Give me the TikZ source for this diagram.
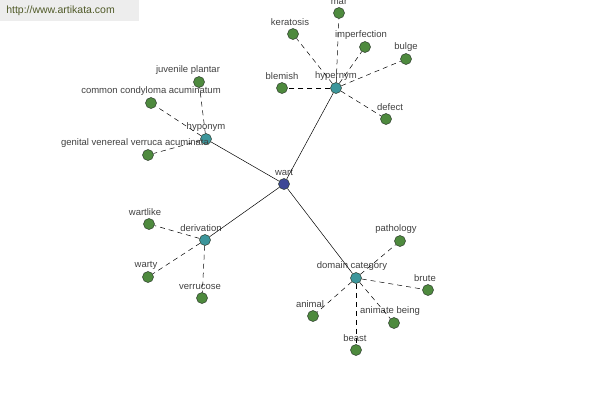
\documentclass[tikz,border=0pt]{standalone}
\usepackage{fontspec}
\setmainfont{Liberation Sans}
\usepackage{xcolor}
\usepackage{tikz}
\usetikzlibrary{shapes.geometric}

\definecolor{folhaverde}{RGB}{78,138,62}
\definecolor{centroazul}{RGB}{60,150,155}
\definecolor{raizazul}{RGB}{62,72,150}
\definecolor{borda}{RGB}{45,60,45}
\definecolor{texto}{RGB}{65,65,65}
\definecolor{faixa}{RGB}{237,237,237}
\definecolor{site}{RGB}{80,90,40}

\begin{document}
\begin{tikzpicture}[x=1pt, y=-1pt,
		    every node/.style={circle, draw=borda, line width=0.5pt, minimum size=11pt, inner sep=0pt},
		    every label/.style={draw=none, rectangle, inner sep=0.3pt, text=texto, font=\fontsize{9.5}{11}\selectfont},
		    label distance=0pt
		]
		\tikzset{
		    verde/.style={fill=folhaverde},
		    azulclaro/.style={fill=centroazul},
		    azul/.style={fill=raizazul},
		    ramo/.style={draw=black, line width=0.5pt},
		    tracejado/.style={draw=black, line width=0.5pt, dash pattern=on 5pt off 4pt}
		}
		\useasboundingbox (0,0) rectangle (600,400);
		% faixa do site
		\fill[faixa] (0,0) rectangle (139,21);
		\node[draw=none, rectangle, anchor=west, text=site, font=\fontsize{10.5}{12}\selectfont] (site) at (6,11) {http://www.artikata.com};

		% raiz e centros
		\node[azul, label=above:wart] (wart) at (284,184) {};
		\node[azulclaro, label=above:hypernym] (hypernym) at (336,88) {};
		\node[azulclaro, label=above:hyponym] (hyponym) at (206,139) {};
		\node[azulclaro, label={[xshift=-4pt]above:derivation}] (derivation) at (205,240) {};
		\node[azulclaro, label={[xshift=-4pt]above:domain category}] (domain) at (356,278) {};

		% hypernym
		\node[verde, label=above:mar] (mar) at (339,13) {};
		\node[verde, label={[xshift=-3pt]above:keratosis}] (keratosis) at (293,34) {};
		\node[verde, label={[xshift=-4pt]above:imperfection}] (imperfection) at (365,47) {};
		\node[verde, label=above:bulge] (bulge) at (406,59) {};
		\node[verde, label=above:blemish] (blemish) at (282,88) {};
		\node[verde, label={[xshift=4pt]above:defect}] (defect) at (386,119) {};

		% hyponym
		\node[verde, label={[xshift=-11pt]above:juvenile plantar}] (juvenile) at (199,82) {};
		\node[verde, label=above:common condyloma acuminatum] (common) at (151,103) {};
		\node[verde, label={[xshift=-13pt]above:genital venereal verruca acuminata}] (genital) at (148,155) {};

		% derivation
		\node[verde, label={[xshift=-4pt]above:wartlike}] (wartlike) at (149,224) {};
		\node[verde, label={[xshift=-2pt]above:warty}] (warty) at (148,277) {};
		\node[verde, label={[xshift=-2pt]above:verrucose}] (verrucose) at (202,298) {};

		% domain category
		\node[verde, label={[xshift=-4pt]above:pathology}] (pathology) at (400,241) {};
		\node[verde, label={[xshift=-3pt]above:brute}] (brute) at (428,290) {};
		\node[verde, label={[xshift=-3pt]above:animal}] (animal) at (313,316) {};
		\node[verde, label={[xshift=-4pt]above:animate being}] (animate) at (394,323) {};
		\node[verde, label={[xshift=-1pt]above:beast}] (beast) at (356,350) {};

		\foreach \c in {hypernym, hyponym, derivation, domain}
		    \draw[ramo] (wart) -- (\c);
		\foreach \f in {mar, keratosis, imperfection, bulge, blemish, defect}
		    \draw[tracejado] (hypernym) -- (\f);
		\foreach \f in {juvenile, common, genital}
		    \draw[tracejado] (hyponym) -- (\f);
		\foreach \f in {wartlike, warty, verrucose}
		    \draw[tracejado] (derivation) -- (\f);
		\foreach \f in {pathology, brute, animal, animate, beast}
		    \draw[tracejado] (domain) -- (\f);
		\end{tikzpicture}
\end{document}
